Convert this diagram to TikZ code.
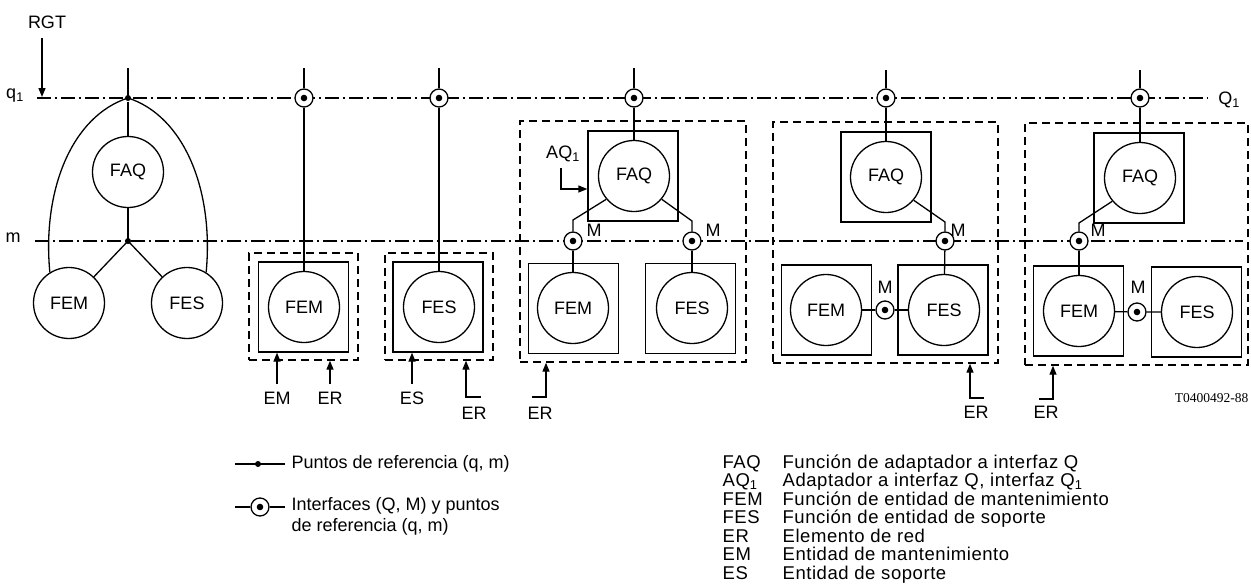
\documentclass[tikz,border=0pt]{standalone}
\usepackage{fontspec}
\setmainfont{Liberation Sans}
\newfontfamily\codefont{Liberation Serif}
\newfontfamily\legfont[LetterSpace=3]{Liberation Sans}
\usetikzlibrary{arrows.meta,backgrounds,calc}
\begin{document}
\begin{tikzpicture}[x=1pt,y=-1pt, line width=1.3pt,
 every node/.style={font=\fontsize{18}{18}\selectfont, inner sep=0pt},
 fn/.style={circle,draw,minimum size=71pt},
 fbox/.style={draw,minimum width=90pt,minimum height=90pt},
 dbox/.style={draw,dash pattern=on 8pt off 5pt,line width=1.4pt},
 iface/.style={circle,draw,fill=white,minimum size=18pt,path picture={\fill[black] (path picture bounding box.center) circle (3.3pt);}},
 refpt/.style={circle,fill,minimum size=6pt},
 dashdot/.style={line width=1.1pt,dash pattern=on 14pt off 4pt on 2pt off 4pt},
 arr/.style={-{Triangle[length=9pt,width=7pt]}},
 legtext/.style={font=\legfont\fontsize{18.5}{18.5}\selectfont}
]
\useasboundingbox (0,0) rectangle (1251,587);

% ---------- labels of reference lines ----------
\node (rgt) at (47,22) {RGT};
\node (q1lab) at (15,96) {q\textsubscript{1}};
\node (mlab) at (13,238) {m};
\node (Q1lab) at (1229,100) {Q\textsubscript{1}};
\coordinate (rgts) at (42,38);
\coordinate (rgte) at (42,97);

% ---------- column 1 ----------
\node[fn] (faq1) at (128,172) {FAQ};
\node[fn] (fem1) at (69,303) {FEM};
\node[fn] (fes1) at (187,303) {FES};
\node[refpt] (q1a) at (128,98) {};
\node[refpt] (m1) at (128,241) {};
\coordinate (t1) at (128,68);
\draw (t1) -- (q1a.center);
\draw (q1a) -- (faq1);
\draw (faq1) -- (m1.center);
\draw (m1.center) -- (fem1);
\draw (m1.center) -- (fes1);
\draw (q1a.center) .. controls (72,116) and (42,190) .. (fem1.122);
\draw (q1a.center) .. controls (184,116) and (214,190) .. (fes1.58);

% ---------- column 2 ----------
\node[dbox,minimum width=109pt,minimum height=107pt] (d2) at (303.5,306.5) {};
\node[fbox] (b2) at (303.5,307) {};
\node[fn] (fem2) at (304,307) {FEM};
\node[iface] (i2) at (304,98) {};
\coordinate (t2) at (304,68);
\draw (t2) -- (i2);
\draw (i2) -- (fem2);
\node (em2) at (277,398) {EM};
\node (er2) at (330,398) {ER};
\draw[arr] ([yshift=7pt]em2.north) -- (em2 |- b2.south);
\draw[arr] ([yshift=7pt]er2.north) -- (er2 |- d2.south);

% ---------- column 3 ----------
\node[dbox,minimum width=108pt,minimum height=107pt] (d3) at (439,306.5) {};
\node[fbox] (b3) at (438,307) {};
\node[fn] (fes3) at (439,307) {FES};
\node[iface] (i3) at (439,98) {};
\coordinate (t3) at (439,68);
\draw (t3) -- (i3);
\draw (i3) -- (fes3);
\node (es3) at (412,398) {ES};
\node (er3) at (474,413) {ER};
\draw[arr] ([yshift=7pt]es3.north) -- (es3 |- b3.south);
\coordinate (e3) at (481,397);
\coordinate (k3) at (466,397);
\draw[arr] (e3) -- (k3) -- (k3 |- d3.south);

% ---------- column 4 ----------
\node[dbox,minimum width=226pt,minimum height=241pt] (d4) at (633,241.5) {};
\node[fbox] (fb4) at (633,176) {};
\node[fn] (faq4) at (634,176) {FAQ};
\node[iface] (i4) at (634,98) {};
\coordinate (t4) at (634,68);
\draw (t4) -- (i4);
\draw (i4) -- (faq4);
\node (aq) at (563,154) {AQ\textsubscript{1}};
\coordinate (aqs) at (561,168);
\coordinate (aqt) at (561,189);
\draw[arr] (aqs) -- (aqt) -- (aqt -| fb4.west);
\node[iface] (ma4) at (573,241) {};
\node[iface] (mb4) at (692,241) {};
\coordinate (k4a) at (573,220);
\coordinate (k4b) at (692,221);
\draw (faq4.220) -- (k4a) -- (ma4);
\draw (faq4.320) -- (k4b) -- (mb4);
\node (ml4a) at (594,230) {M};
\node (ml4b) at (713,230) {M};
\node[fbox] (b4a) at (573.5,308.5) {};
\node[fn] (fem4) at (573,308) {FEM};
\node[fbox] (b4b) at (690.5,308.5) {};
\node[fn] (fes4) at (692,308) {FES};
\draw (ma4) -- (fem4);
\draw (mb4) -- (fes4);
\node (er4) at (540,413) {ER};
\coordinate (e4) at (532,397);
\coordinate (k4) at (546,397);
\draw[arr] (e4) -- (k4) -- (k4 |- d4.south);

% ---------- column 5 ----------
\node[dbox,minimum width=225pt,minimum height=241pt] (d5) at (885.5,242.5) {};
\node[fbox] (fb5) at (886,177) {};
\node[fn] (faq5) at (886,177) {FAQ};
\node[iface] (i5) at (886,98) {};
\coordinate (t5) at (886,70);
\draw (t5) -- (i5);
\draw (i5) -- (faq5);
\node[iface] (m5) at (945,241) {};
\coordinate (k5) at (945,222);
\draw (faq5.320) -- (k5) -- (m5);
\node (ml5) at (958,230) {M};
\node[fbox] (b5a) at (826.5,310) {};
\node[fn] (fem5) at (826,310) {FEM};
\node[fbox] (b5b) at (943,310) {};
\node[fn] (fes5) at (944,310) {FES};
\draw (m5) -- (fes5);
\node[iface] (x5) at (885,310) {};
\node (xl5) at (885,287) {M};
\draw (fem5) -- (x5) -- (fes5);
\node (er5) at (976,412) {ER};
\coordinate (e5) at (984,398);
\coordinate (k5b) at (970,398);
\draw[arr] (e5) -- (k5b) -- (k5b |- d5.south);

% ---------- column 6 ----------
\node[dbox,minimum width=223pt,minimum height=242pt] (d6) at (1136.5,244) {};
\node[fbox] (fb6) at (1139,178) {};
\node[fn] (faq6) at (1140,178) {FAQ};
\node[iface] (i6) at (1140,98) {};
\coordinate (t6) at (1140,70);
\draw (t6) -- (i6);
\draw (i6) -- (faq6);
\node[iface] (m6) at (1079,241) {};
\coordinate (k6) at (1079,223);
\draw (faq6.220) -- (k6) -- (m6);
\node (ml6) at (1098,230) {M};
\node[fbox] (b6a) at (1078.5,311) {};
\node[fn] (fem6) at (1079,311) {FEM};
\node[fbox] (b6b) at (1196.5,312) {};
\node[fn] (fes6) at (1197,312) {FES};
\draw (m6) -- (fem6);
\node[iface] (x6) at (1137,312) {};
\node (xl6) at (1138,287) {M};
\draw (fem6) -- (x6) -- (fes6);
\node (er6) at (1046,412) {ER};
\coordinate (e6) at (1039,399);
\coordinate (k6b) at (1053,399);
\draw[arr] (e6) -- (k6b) -- (k6b |- d6.south);

\node[anchor=east,font=\codefont\fontsize{13.5}{13.5}\selectfont] (code) at (1249,398) {T0400492-88};

% ---------- reference lines (behind) ----------
\begin{scope}[on background layer]
\coordinate (qa) at (37,98);
\coordinate (qb) at (1208,98);
\coordinate (ma) at (35,241);
\coordinate (mb) at (1243,241);
\draw[dashdot] (qa) -- (qb);
\draw[dashdot] (ma) -- (mb);
\end{scope}
\draw[arr] (rgts) -- (rgte);

% ---------- legend left ----------
\coordinate (l1a) at (235,464);
\coordinate (l1b) at (285,464);
\draw (l1a) -- (l1b);
\node[refpt] (l1p) at (258,464) {};
\node[anchor=west] (l1t) at (291,464) {Puntos de referencia (q, m)};
\coordinate (l2a) at (235,507);
\coordinate (l2b) at (285,507);
\node[iface] (l2p) at (260,507) {};
\draw (l2a) -- (l2p) -- (l2b);
\node[anchor=north west,align=left,font=\fontsize{18}{21}\selectfont] (l2t) at (291,497) {Interfaces (Q, M) y puntos\\de referencia (q, m)};

% ---------- legend right ----------
\foreach \a/\d [count=\i from 0] in {FAQ/{Función de adaptador a interfaz Q},{AQ\textsubscript{1}}/{Adaptador a interfaz Q, interfaz Q\textsubscript{1}},FEM/{Función de entidad de mantenimiento},FES/{Función de entidad de soporte},ER/{Elemento de red},EM/{Entidad de mantenimiento},ES/{Entidad de soporte}}{
  \node[anchor=base west,legtext] (ab\i) at (722,468+18.5*\i) {\a};
  \node[anchor=base west,legtext] (de\i) at (782,468+18.5*\i) {\d};
}
\end{tikzpicture}
\end{document}
